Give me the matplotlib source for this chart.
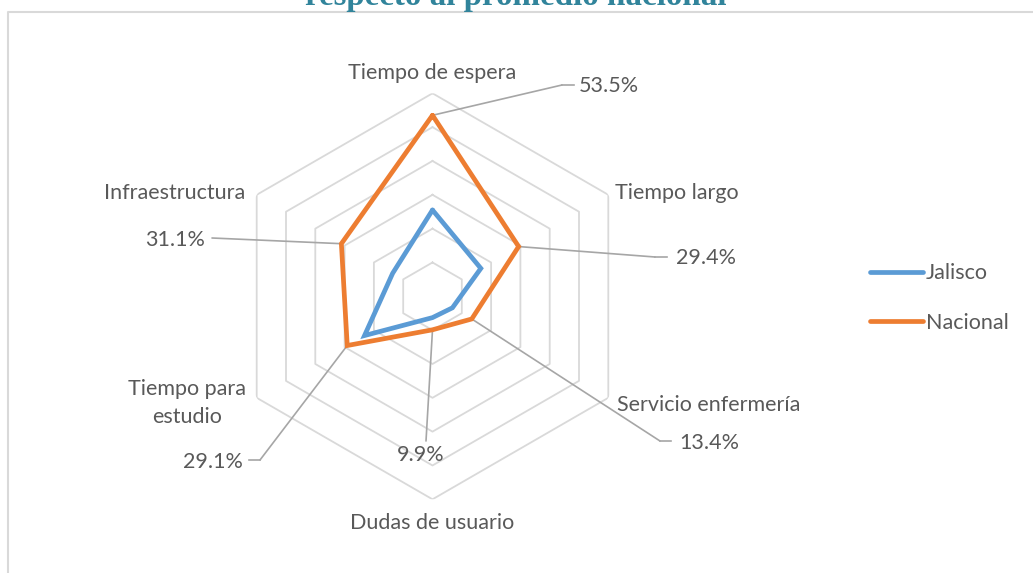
import numpy as np
import matplotlib
matplotlib.use("Agg")
import matplotlib.pyplot as plt
from matplotlib.lines import Line2D

categories = ["Tiempo de espera", "Tiempo largo", "Servicio enfermería",
              "Dudas de usuario", "Tiempo para\nestudio", "Infraestructura"]
jalisco = [25.5, 16.5, 6.8, 6.3, 23.2, 13.6]
nacional = [53.5, 29.4, 13.4, 9.9, 29.1, 31.1]
nacional_labels = ["53.5%", "29.4%", "13.4%", "9.9%", "29.1%", "31.1%"]
series_names = ["Jalisco", "Nacional"]
rings = [10, 20, 30, 40, 50, 60]
title = "respecto al promedio nacional"

W, H, DPI = 1033, 573, 100
fig = plt.figure(figsize=(W / DPI, H / DPI), dpi=DPI)
plt.rcParams['font.family'] = ['Lato', 'DejaVu Sans']
TXT = '#595959'
BLUE = '#5B9BD5'
ORANGE = '#ED7D31'
GRID = '#D9D9D9'
LEAD = '#A6A6A6'
FS = 15.5


def fx(px):
    return px / W


def fy(py):
    return 1 - py / H


# chart border (open to the right and bottom edges)
fig.add_artist(Line2D([fx(7.5), fx(7.5), fx(1040)], [fy(600), fy(11.5), fy(11.5)],
                      transform=fig.transFigure, color=GRID, lw=1.5))

cx, cy, R = 432.5, 296.3, 203
ax = fig.add_axes([fx(cx - R), fy(cy + R), 2 * R / W, 2 * R / H], projection='polar')
ax.set_theta_zero_location('N')
ax.set_theta_direction(-1)
ax.set_ylim(0, 60)
ax.grid(False)
ax.set_xticks([])
ax.set_yticks([])
ax.spines['polar'].set_visible(False)
ax.patch.set_alpha(0)

n = len(categories)
angles = np.arange(n) * 2 * np.pi / n
closed = np.append(angles, angles[0])
for r in rings:
    ax.plot(closed, [r] * (n + 1), color=GRID, lw=1.3, zorder=1)

ax.plot(closed, jalisco + [jalisco[0]], color=BLUE, lw=3.4, zorder=3,
        solid_joinstyle='miter', solid_capstyle='round', label=series_names[0])
ax.plot(closed, nacional + [nacional[0]], color=ORANGE, lw=3.4, zorder=4,
        solid_joinstyle='miter', solid_capstyle='round', label=series_names[1])

# category labels (pixel positions)
cat_pos = [(432, 73), (677, 193), (709, 405), (432, 523), (187, 403), (175, 193)]
for lab, (px, py) in zip(categories, cat_pos):
    fig.text(fx(px), fy(py), lab, ha='center', va='center', fontsize=FS, color=TXT,
             linespacing=1.55)

# data labels with leader lines: (elbow x, elbow y, end x, text x, text y, ha)
lead = [(562, 85, 574, 579, 86, 'left'),
        (655, 257, 667, 676, 258, 'left'),
        (660, 441, 671, 679, 443, 'left'),
        (426, 441, 426, 421, 455, 'center'),
        (260, 460, 249, 243, 462, 'right'),
        (212, 238, 212, 205, 240, 'right')]
for a, v, lab, (ex, ey, endx, tx, ty, ha) in zip(angles, nacional, nacional_labels, lead):
    ax.annotate('', xy=(a, v), xycoords='data', xytext=(fx(ex), fy(ey)),
                textcoords='figure fraction',
                arrowprops=dict(arrowstyle='-', color=LEAD, lw=1.2,
                                shrinkA=0, shrinkB=0), zorder=2)
    if endx != ex:
        fig.add_artist(Line2D([fx(ex), fx(endx)], [fy(ey), fy(ey)],
                              transform=fig.transFigure, color=LEAD, lw=1.2))
    fig.text(fx(tx), fy(ty), lab, ha=ha, va='center', fontsize=FS, color=TXT)

# legend
fig.legend(handles=ax.get_lines()[-2:], labels=series_names, loc='center left',
           bbox_to_anchor=(fx(851), fy(298)), frameon=False, fontsize=FS,
           handlelength=2.45, handletextpad=0.12, labelspacing=1.38,
           labelcolor=TXT)

# title (mostly cut off at top, as in the original)
fig.text(fx(516), fy(5), title, ha='center', va='baseline', fontsize=23.8,
         fontweight='bold', color='#31849B', family=['Liberation Serif'])

fig.savefig('out.png', dpi=DPI)
